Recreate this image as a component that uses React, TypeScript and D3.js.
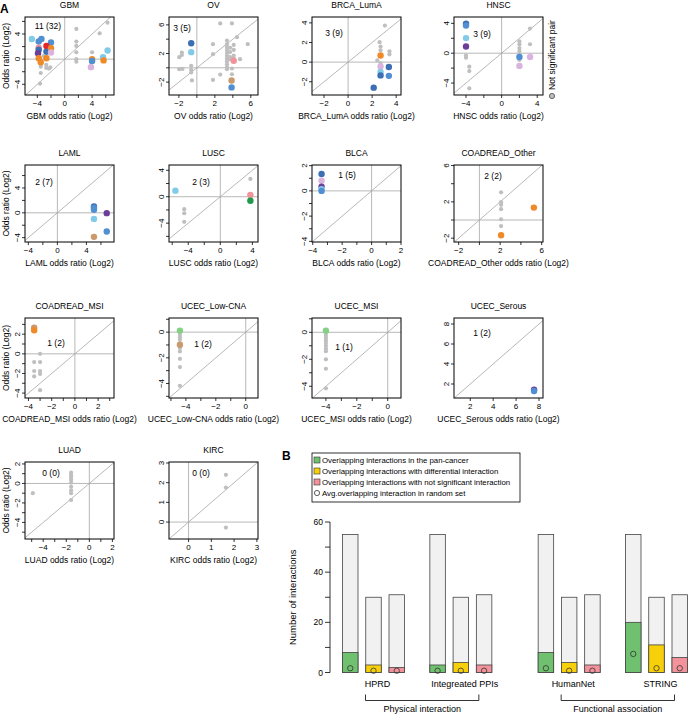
import React from 'react';
import * as d3 from 'd3';

type Pt = [number, number, string?];

const FONT = "'Liberation Sans', Arial, Helvetica, sans-serif";

const pointColors: Record<string, string> = {
  g: '#bfbfbf',
  lb: '#82cbe8',
  b: '#4f8fd2',
  db: '#3c6fb4',
  r: '#e3262a',
  o: '#f08a28',
  p: '#6b3f98',
  m: '#d9b4de',
  pk: '#f2929b',
  t: '#c99a6e',
  gr: '#1f9a4a',
  lg: '#84d084',
};

// ---------------- Panel A data ----------------
const panelNames = ['GBM', 'OV', 'BRCA_LumA', 'HNSC', 'LAML', 'LUSC', 'BLCA', 'COADREAD_Other',
  'COADREAD_MSI', 'UCEC_Low-CNA', 'UCEC_MSI', 'UCEC_Serous', 'LUAD', 'KIRC'];
const countLabels = ['11 (32)', '3 (5)', '3 (9)', '3 (9)', '2 (7)', '2 (3)', '1 (5)', '2 (2)',
  '1 (2)', '1 (2)', '1 (1)', '1 (2)', '0 (0)', '0 (0)'];

const xDomains: [number, number][] = [[-5.8, 7.2], [-3.1, 6.8], [-3.0, 4.4], [-5.35, 4.65], [-4.46, 7.8], [-6.4, 4.7],
  [-4.05, 2.0], [-2.45, 6.13], [-4.3, 3.37], [-5.13, 0.82], [-4.9, 0.86], [0.58, 8.35], [-5.58, 2.14], [-0.86, 3.05]];
const yDomains: [number, number][] = [[-5.7, 6.7], [-3.8, 7.1], [-3.35, 4.6], [-5.6, 4.85], [-4.7, 7.7], [-6.85, 4.8],
  [-4.05, 2.05], [-2.42, 6.06], [-4.5, 3.65], [-5.13, 1.1], [-4.87, 1.06], [0.6, 8.6], [-5.7, 2.2], [-0.86, 3.05]];

const xTicks = [[-4, -2, 0, 2, 4, 6], [-2, 0, 2, 4, 6], [-2, 0, 2, 4], [-4, -2, 0, 2, 4], [-4, -2, 0, 2, 4, 6], [-6, -4, -2, 0, 2, 4],
  [-4, -3, -2, -1, 0, 1, 2], [-2, 0, 2, 4, 6], [-4, -3, -2, -1, 0, 1, 2, 3], [-5, -4, -3, -2, -1, 0], [-4, -3, -2, -1, 0],
  [2, 4, 6, 8], [-5, -4, -3, -2, -1, 0, 1, 2], [0, 1, 2, 3]];
const xTickLabels = [[-4, 0, 4], [-2, 2, 6], [-2, 0, 2, 4], [-4, 0, 4], [-4, 0, 4], [-4, 0, 4], [-4, -2, 0, 2], [-2, 2, 6],
  [-4, -2, 0, 2], [-4, -2, 0], [-4, -2, 0], [2, 4, 6, 8], [-4, -2, 0, 2], [0, 1, 2, 3]];
const yTicks = [[-4, -2, 0, 2, 4, 6], [-2, 0, 2, 4, 6], [-2, 0, 2, 4], [-4, -2, 0, 2, 4], [-4, -2, 0, 2, 4, 6], [-6, -4, -2, 0, 2, 4],
  [-4, -3, -2, -1, 0, 1, 2], [-2, 0, 2, 4, 6], [-4, -3, -2, -1, 0, 1, 2, 3], [-5, -4, -3, -2, -1, 0, 1], [-4, -3, -2, -1, 0, 1],
  [2, 4, 6, 8], [-5, -4, -3, -2, -1, 0, 1, 2], [0, 1, 2, 3]];
const yTickLabels = [[-4, 0, 4], [-2, 2, 6], [-2, 0, 2, 4], [-4, 0, 4], [-4, 0, 4], [-4, 0, 4], [-4, -2, 0, 2], [-2, 2, 6],
  [-4, -2, 0, 2], [-4, -2, 0], [-4, -2, 0], [2, 4, 6, 8], [-4, -2, 0, 2], [0, 1, 2, 3]];

const gbmPoints: Pt[] = [
  [-3.6, -3.9], [-3.5, -2.2], [-3.5, -1.2], [-3.5, -0.8], [-2.7, -1.4], [-2.3, -1.5], [-2.1, -1.3], [-2.7, -0.9],
  [-3.1, 0.5], [-2.7, 0.6], [1.7, 4.8], [1.7, 2.8], [1.7, 2.1], [1.7, 1.1], [1.7, 0.0], [1.7, -0.4], [4.0, 1.1],
  [5.1, 4.1], [6.25, 5.8], [3.9, -0.6],
  [-4.8, 3.2, 'lb'], [-3.8, 2.8, 'b'], [-3.4, 3.2, 'b'], [-2.0, 2.65, 'b'], [-2.67, 2.1, 'r'], [-3.8, 1.8, 'pk'],
  [-3.8, 1.5, 'db'], [-2.67, 1.2, 'db'], [-2.0, 1.75, 'o'], [-3.9, 0.95, 'p'], [-2.0, 1.06, 'm'], [-3.8, 0.15, 'o'],
  [-3.5, -0.5, 'o'], [-2.67, 0.15, 'o'], [6.26, 1.37, 'lb'], [5.6, 0.3, 'lb'], [4.0, 0.0, 'o'], [4.0, -0.3, 'b'],
  [3.83, -1.27, 'm'], [5.68, -0.2, 'o'],
];
const ovPoints: Pt[] = [
  [-1.96, 1.49], [-1.67, 2.13], [-1.67, 1.8], [-1.96, -0.19], [-1.6, -0.15], [-0.63, 0.28], [-0.63, -0.28], [-0.63, -0.65],
  [-0.55, -1.77], [1.79, 3.3], [1.79, 1.9], [1.79, -1.7], [2.6, 6.2], [3.9, 6.2], [2.6, -0.95],
  [3.35, 3.8], [3.35, 3.3], [3.35, 2.9], [3.35, 2.5], [3.35, 2.1], [3.35, 1.7], [3.35, 1.3], [3.35, 0.9], [3.35, 0.5],
  [3.35, 0.1], [3.35, -0.2], [3.7, 2.8], [3.7, 2.2], [3.7, 1.5], [3.7, 1.2], [4.1, 3.2], [4.1, 2.5], [4.1, 1.7], [4.1, 1.3],
  [4.46, 4.28], [4.8, 1.2], [5.66, 3.3], [3.9, -0.1], [3.9, -0.9],
  [-0.63, 3.44, 'db'], [-0.63, 2.19, 'lb'], [4.1, 0.98, 'pk'], [3.86, -1.77, 't'], [3.86, -2.74, 'b'],
];
const brcaPoints: Pt[] = [
  [3.06, 3.73], [2.62, 2.03], [2.7, 1.59], [3.44, 1.1], [3.44, 0.8], [2.7, 1.2], [2.43, 0.17], [2.7, -0.1],
  [2.7, 0.68, 'o'], [2.7, -0.44, 'm'], [3.39, -0.5, 'db'], [2.7, -1.0, 'lb'], [2.7, -1.35, 'db'], [3.39, -1.4, 'b'],
  [2.13, -2.6, 'db'],
];
const hnscPoints: Pt[] = [
  [-4, -0.3], [-4, -0.6], [-3.63, -1.8], [-3.63, -2.4], [-3.63, -4.7], [3.19, 3.3], [3.19, 1.2], [2.0, 1.6], [2.0, 1.2],
  [2.0, 0.7], [2.0, 0.3], [2.0, -0.1], [2.0, -0.9],
  [-4, 3.96, 'db'], [-4, 3.7, 'b'], [-4, 2.02, 'lb'], [-4, 0.9, 'p'], [2.0, -0.5, 'b'], [2.0, -1.7, 'm'], [3.2, -0.5, 'm'],
];
const lamlPoints: Pt[] = [
  [5.04, 1.03, 'db'], [5.04, 0.77, 'b'], [5.04, 0.5, 'b'], [6.8, -0.05, 'p'], [5.04, -0.98, 'lb'], [6.8, -3.0, 'b'],
  [5.04, -3.87, 't'],
];
const luscPoints: Pt[] = [
  [-4.5, -1.88], [-4.5, -2.5], [-4.5, -3.8], [3.75, 2.7],
  [-5.6, 0.92, 'lb'], [3.75, 0.26, 'pk'], [3.75, -0.6, 'gr'],
];
const blcaPoints: Pt[] = [
  [-3.4, 1.34, 'db'], [-3.4, 0.8, 'm'], [-3.4, 0.34, 'p'], [-3.4, 0.13, 'lb'], [-3.4, 0.0, 'b'],
];
const coadOtherPoints: Pt[] = [
  [2.09, 3.05], [2.09, 1.97], [2.09, 1.67], [2.09, 1.19], [2.09, 0.08], [2.09, -0.67],
  [2.09, -1.67, 'o'], [5.25, 1.37, 'o'],
];
const coadMsiPoints: Pt[] = [
  [-3.0, 0], [-3.51, -0.84], [-3.0, -0.84], [-3.51, -1.75], [-3.0, -1.75], [-3.0, -2.05], [-3.51, -2.3], [-3.0, -3.7],
  [-3.51, 2.65, 't'], [-3.51, 2.4, 'o'],
];
const ucecLowPoints: Pt[] = [
  [-4.4, -0.2], [-4.4, -0.4], [-4.4, -0.6], [-4.4, -1.23], [-4.4, -1.5], [-4.4, -2.08], [-4.4, -2.72], [-4.4, -4.18],
  [-4.4, 0.12, 'lg'], [-4.4, -0.98, 't'],
];
const ucecMsiPoints: Pt[] = [
  [-4.0, -0.2], [-4.0, -0.4], [-4.0, -0.6], [-4.0, -0.8], [-4.0, -1.0], [-4.0, -1.2], [-4.0, -1.4], [-4.0, -2.0],
  [-4.0, -2.7], [-4.0, -4.15],
  [-4.0, 0.12, 'lg'],
];
const ucecSerousPoints: Pt[] = [[7.57, 1.42, 'p'], [7.57, 1.3, 'b']];
const luadPoints: Pt[] = [
  [-4.9, -1.0], [-1.58, 1.12], [-1.58, 0.85], [-1.58, 0.6], [-1.58, 0.35], [-1.58, 0.07], [-1.58, -0.34],
  [-1.58, -0.7], [-1.58, -1.0], [-1.58, -1.7],
];
const kircPoints: Pt[] = [[1.64, 2.4], [1.64, 1.75], [1.64, -0.28]];

const panelPoints = [gbmPoints, ovPoints, brcaPoints, hnscPoints, lamlPoints, luscPoints, blcaPoints, coadOtherPoints,
  coadMsiPoints, ucecLowPoints, ucecMsiPoints, ucecSerousPoints, luadPoints, kircPoints];

// ---------------- Panel B data ----------------
const dbNames = ['HPRD', 'Integreated PPIs', 'HumanNet', 'STRING'];
const dbPositions = [0, 1, 2.24, 3.24];
const seriesKeys = ['pan', 'diff', 'notsig'];
const totalInteractions = [55, 30, 31];
const overlapHPRD = [8, 3, 2];
const overlapIntegrated = [3, 4, 3];
const overlapHumanNet = [8, 4, 3];
const overlapSTRING = [20, 11, 6];
const randomHPRD = [1.7, 0.7, 0.7];
const randomIntegrated = [0.7, 0.7, 0.7];
const randomHumanNet = [1.7, 0.7, 0.7];
const randomSTRING = [7.4, 1.7, 1.7];
const overlaps = [overlapHPRD, overlapIntegrated, overlapHumanNet, overlapSTRING];
const randoms = [randomHPRD, randomIntegrated, randomHumanNet, randomSTRING];
const yTicksB = [0, 10, 20, 30, 40, 50, 60];
const legendLabels = [
  'Overlapping interactions in the pan-cancer',
  'Overlapping interactions with differential interaction',
  'Overlapping interactions with not significant interaction',
  'Avg.overlapping interaction in random set',
];
const barColors = ['#6fc06f', '#f7d00a', '#f2929b'];
const brackets = [
  { label: 'Physical interaction', from: 0, to: 1 },
  { label: 'Functional association', from: 2, to: 3 },
];

// ---------------- Layout ----------------
const colLeft = [25, 169, 312, 454];
const rowTop = [17, 165, 318, 462];
const rowH = [78, 77, 80, 77];
const boxW = 89;
const countOffsets = [[23, 9], [13, 11], [22, 16], [28, 17], [19, 17], [32, 17], [35, 10], [39, 11], [31, 25], [34, 26],
  [32, 29], [28, 15], [26, 11], [32, 11]];

function fmt(v: number) {
  return v < 0 ? '\u2212' + Math.abs(v) : String(v);
}

function Panel({ i }: { i: number }) {
  const col = i % 4;
  const row = Math.floor(i / 4);
  const left = colLeft[col];
  const top = rowTop[row];
  const h = rowH[row];
  const xd = xDomains[i];
  const yd = yDomains[i];
  const x = d3.scaleLinear().domain(xd).range([left, left + boxW]);
  const y = d3.scaleLinear().domain(yd).range([top + h, top]);
  const dStart = Math.max(xd[0], yd[0]);
  const dEnd = Math.min(xd[1], yd[1]);
  const pts = panelPoints[i];
  const grays = pts.filter((p) => !p[2] || p[2] === 'g');
  const cols = pts.filter((p) => p[2] && p[2] !== 'g');
  const name = panelNames[i];
  return (
    <g>
      <text x={left + boxW / 2} y={top - 9} textAnchor="middle" fontSize={8.5}>{name}</text>
      {xd[0] < 0 && xd[1] > 0 && (
        <line x1={x(0)} x2={x(0)} y1={top} y2={top + h} stroke="#a6a6a6" strokeWidth={0.8} />
      )}
      {yd[0] < 0 && yd[1] > 0 && (
        <line x1={left} x2={left + boxW} y1={y(0)} y2={y(0)} stroke="#a6a6a6" strokeWidth={0.8} />
      )}
      <line x1={x(dStart)} y1={y(dStart)} x2={x(dEnd)} y2={y(dEnd)} stroke="#a6a6a6" strokeWidth={0.8} />
      {grays.map((p, k) => (
        <circle key={'g' + k} cx={x(p[0])} cy={y(p[1])} r={2.1} fill={pointColors.g} />
      ))}
      {cols.map((p, k) => (
        <circle key={'c' + k} cx={x(p[0])} cy={y(p[1])} r={3.2} fill={pointColors[p[2] as string]} />
      ))}
      <rect x={left} y={top} width={boxW} height={h} fill="none" stroke="#000" strokeWidth={1} />
      {xTicks[i].map((t) => (
        <line key={'xt' + t} x1={x(t)} x2={x(t)} y1={top + h} y2={top + h + 3} stroke="#000" strokeWidth={0.8} />
      ))}
      {xTickLabels[i].map((t) => (
        <text key={'xl' + t} x={x(t)} y={top + h + 10.5} textAnchor="middle" fontSize={8}>{fmt(t)}</text>
      ))}
      {yTicks[i].map((t) => (
        <line key={'yt' + t} x1={left - 3} x2={left} y1={y(t)} y2={y(t)} stroke="#000" strokeWidth={0.8} />
      ))}
      {yTickLabels[i].map((t) => (
        <text key={'yl' + t} transform={`translate(${left - 5},${y(t)}) rotate(-90)`} textAnchor="middle" fontSize={8}>
          {fmt(t)}
        </text>
      ))}
      <text x={left + boxW / 2} y={top + h + 24} textAnchor="middle" fontSize={8.5}>{name + ' odds ratio (Log2)'}</text>
      {col === 0 && (
        <text transform={`translate(9,${top + h / 2}) rotate(-90)`} textAnchor="middle" fontSize={8.5}>
          Odds ratio (Log2)
        </text>
      )}
      <text x={left + countOffsets[i][0]} y={top + countOffsets[i][1] + 3} textAnchor="middle" fontSize={8.5}>
        {countLabels[i]}
      </text>
    </g>
  );
}

function PanelB() {
  const y = d3.scaleLinear().domain([0, 60]).range([672.5, 522]);
  const gx = d3.scaleLinear().domain([0, 3.24]).range([373.5, 656.5]);
  const inner = d3.scaleBand<number>().domain([0, 1, 2]).range([-31, 31]).paddingInner(1 / 3);
  const bw = inner.bandwidth();
  const axisX = 330;
  return (
    <g>
      <text x={282} y={459.5} fontSize={12} fontWeight="bold">B</text>
      <rect x={312} y={453} width={208} height={49} fill="#fff" stroke="#000" strokeWidth={0.8} />
      {legendLabels.map((lab, k) => {
        const cy = 460 + k * 11;
        return (
          <g key={lab}>
            {k < 3 ? (
              <rect x={314} y={cy - 3} width={6} height={6} fill={barColors[k]} stroke="#333" strokeWidth={0.6} />
            ) : (
              <circle cx={317} cy={cy} r={2.6} fill="none" stroke="#333" strokeWidth={0.8} />
            )}
            <text x={322} y={cy + 2.7} fontSize={7.8}>{lab}</text>
          </g>
        );
      })}
      <line x1={axisX} x2={axisX} y1={y(0)} y2={y(60)} stroke="#000" strokeWidth={0.8} />
      {yTicksB.map((t) => (
        <g key={t}>
          <line x1={axisX - 5} x2={axisX} y1={y(t)} y2={y(t)} stroke="#000" strokeWidth={0.8} />
          {t % 20 === 0 && (
            <text x={axisX - 7} y={y(t) + 3} textAnchor="end" fontSize={8.5}>{t}</text>
          )}
        </g>
      ))}
      <text transform={`translate(296,${(y(0) + y(60)) / 2}) rotate(-90)`} textAnchor="middle" fontSize={9.5}>
        Number of interactions
      </text>
      {dbNames.map((db, gi) => {
        const cx = gx(dbPositions[gi]);
        return (
          <g key={db}>
            {seriesKeys.map((s, si) => {
              const bx = cx + (inner(si) as number);
              return (
                <g key={s}>
                  <rect x={bx} y={y(totalInteractions[si])} width={bw} height={y(0) - y(totalInteractions[si])}
                    fill="#f1f1f1" stroke="#444" strokeWidth={0.8} />
                  <rect x={bx} y={y(overlaps[gi][si])} width={bw} height={y(0) - y(overlaps[gi][si])}
                    fill={barColors[si]} stroke="#444" strokeWidth={0.8} />
                  <circle cx={bx + bw / 2} cy={y(randoms[gi][si])} r={2.7} fill="none" stroke="#333" strokeWidth={0.8} />
                </g>
              );
            })}
            <text x={cx + 4} y={687} textAnchor="middle" fontSize={9}>{db}</text>
          </g>
        );
      })}
      {brackets.map((b) => {
        const x1 = gx(dbPositions[b.from]) - 8;
        const x2 = gx(dbPositions[b.to]) + 18;
        return (
          <g key={b.label}>
            <path d={`M${x1},694.5V700.5H${x2}V694.5`} fill="none" stroke="#000" strokeWidth={0.8} />
            <text x={(x1 + x2) / 2} y={711.5} textAnchor="middle" fontSize={9}>{b.label}</text>
          </g>
        );
      })}
    </g>
  );
}

export default function App() {
  return (
    <svg width={689} height={717} viewBox="0 0 689 717"
      style={{ position: 'absolute', left: 0, top: 0, background: '#fff', fontFamily: FONT }}>
      <rect x={0} y={0} width={689} height={717} fill="#fff" />
      <text x={0} y={13} fontSize={12} fontWeight="bold">A</text>
      {panelNames.map((_, i) => (
        <Panel key={i} i={i} />
      ))}
      <g transform="translate(555,96) rotate(-90)">
        <circle cx={0} cy={-3} r={2.6} fill="#bfbfbf" stroke="#333" strokeWidth={0.7} />
        <text x={6} y={0} fontSize={8.5}>Not significant pair</text>
      </g>
      <PanelB />
    </svg>
  );
}
